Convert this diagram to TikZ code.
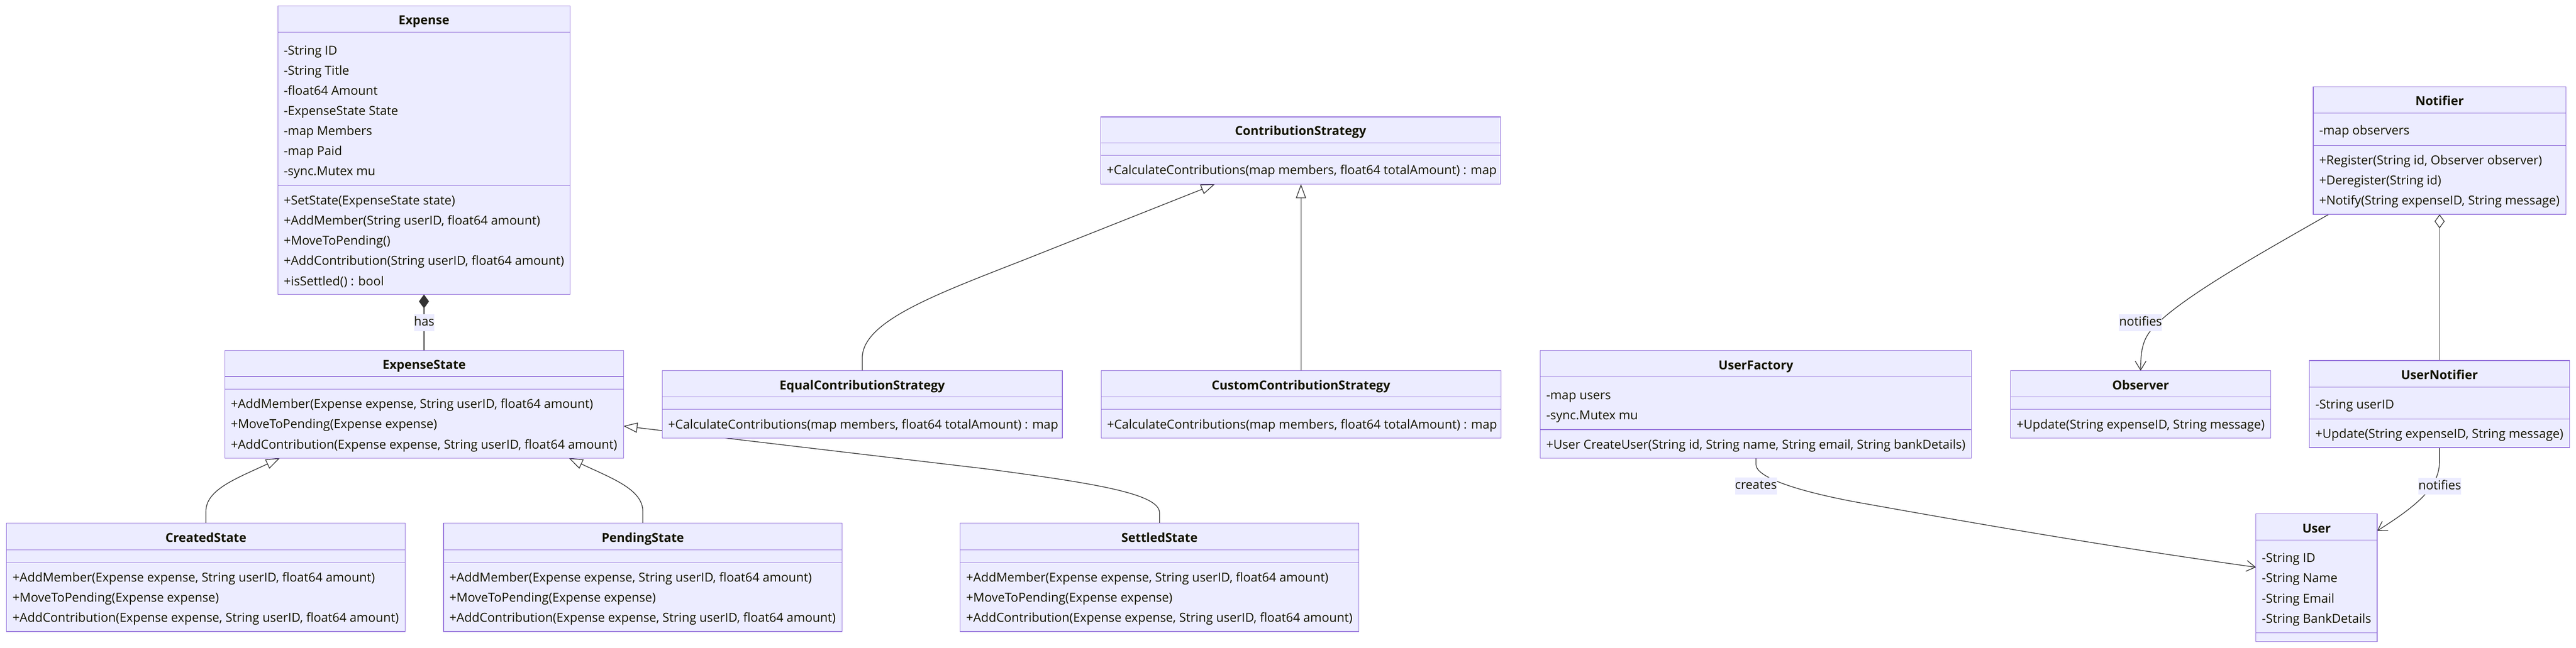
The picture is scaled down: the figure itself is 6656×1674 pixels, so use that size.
\documentclass[tikz,border=0pt]{standalone}
\usepackage{fontspec}
\setmainfont{Open Sans}
\usetikzlibrary{arrows.meta,calc,backgrounds}
\definecolor{boxfill}{HTML}{ECECFF}
\definecolor{boxline}{HTML}{9370DB}
\definecolor{txt}{HTML}{131300}
\definecolor{edgec}{HTML}{333333}
\newcommand{\umlclass}[8]{%
  \node[classbox, anchor=north west, minimum width={(#3-#2)*0.5pt}, minimum height={(#7-#4)*0.5pt}] (#1) at (#2,#4) {};
  \draw[sepline] (#2,#5) -- (#3,#5) (#2,#6) -- (#3,#6);
  \node[titletext] (#1-title) at ({(#2+#3)/2},{(#4+#5)/2+3}) {#8};
}
\newcommand{\umlmember}[4]{\node[mtext] (#1) at (#2,#3) {#4};}
\begin{document}
\begin{tikzpicture}[x=0.5pt,y=-0.5pt,
  font=\fontsize{16pt}{19pt}\selectfont,
  classbox/.style={draw=boxline, fill=boxfill, line width=0.9pt, inner sep=0pt, outer sep=0pt},
  sepline/.style={draw=boxline, line width=0.9pt},
  titletext/.style={text=txt, font=\fontsize{16pt}{19pt}\selectfont\bfseries, inner sep=0pt, text height=11.5pt, text depth=0pt, anchor=center},
  mtext/.style={text=txt, inner sep=0pt, anchor=west, text height=11.5pt, text depth=0pt},
  edgeline/.style={draw=edgec, line width=0.9pt},
  elabel/.style={fill=boxfill, text=txt, inner xsep=0pt, inner ysep=3pt, text height=12pt, text depth=3.5pt},
  inh/.style={edgeline, -{Triangle[open, fill=white, length=18pt, width=13pt]}},
  assoc/.style={edgeline, -{Straight Barb[length=11.5pt, width=14pt]}}
]
\useasboundingbox (0,0) rectangle (6656,1674);
\begin{scope}[on background layer]
  \fill[white] (0,0) rectangle (6656,1674);
\end{scope}

% ---------- classes ----------
\umlclass{ex}{718}{1473}{15}{83}{480}{761}{Expense}
\umlmember{ex-a1}{733}{130}{-String ID}
\umlmember{ex-a2}{733}{182}{-String Title}
\umlmember{ex-a3}{733}{234}{-float64 Amount}
\umlmember{ex-a4}{733}{286}{-ExpenseState State}
\umlmember{ex-a5}{733}{338}{-map Members}
\umlmember{ex-a6}{733}{390}{-map Paid}
\umlmember{ex-a7}{733}{442}{-sync.Mutex mu}
\umlmember{ex-m1}{733}{518}{+SetState(ExpenseState state)}
\umlmember{ex-m2}{733}{570}{+AddMember(String userID, float64 amount)}
\umlmember{ex-m3}{733}{622}{+MoveToPending()}
\umlmember{ex-m4}{733}{674}{+AddContribution(String userID, float64 amount)}
\umlmember{ex-m5}{733}{726}{+isSettled() : bool}

\umlclass{es}{581}{1611}{906}{973}{1006}{1184}{ExpenseState}
\umlmember{es-m1}{596}{1044}{+AddMember(Expense expense, String userID, float64 amount)}
\umlmember{es-m2}{596}{1096}{+MoveToPending(Expense expense)}
\umlmember{es-m3}{596}{1148}{+AddContribution(Expense expense, String userID, float64 amount)}

\umlclass{cs}{17}{1047}{1352}{1421}{1454}{1632}{CreatedState}
\umlmember{cs-m1}{32}{1492}{+AddMember(Expense expense, String userID, float64 amount)}
\umlmember{cs-m2}{32}{1544}{+MoveToPending(Expense expense)}
\umlmember{cs-m3}{32}{1596}{+AddContribution(Expense expense, String userID, float64 amount)}

\umlclass{ps}{1146}{2176}{1352}{1421}{1454}{1632}{PendingState}
\umlmember{ps-m1}{1161}{1492}{+AddMember(Expense expense, String userID, float64 amount)}
\umlmember{ps-m2}{1161}{1544}{+MoveToPending(Expense expense)}
\umlmember{ps-m3}{1161}{1596}{+AddContribution(Expense expense, String userID, float64 amount)}

\umlclass{ss}{2481}{3511}{1352}{1421}{1454}{1632}{SettledState}
\umlmember{ss-m1}{2496}{1492}{+AddMember(Expense expense, String userID, float64 amount)}
\umlmember{ss-m2}{2496}{1544}{+MoveToPending(Expense expense)}
\umlmember{ss-m3}{2496}{1596}{+AddContribution(Expense expense, String userID, float64 amount)}

\umlclass{cst}{2844}{3877}{302}{369}{401}{476}{ContributionStrategy}
\umlmember{cst-m1}{2859}{439}{+CalculateContributions(map members, float64 totalAmount) : map}

\umlclass{eq}{1711}{2745}{958}{1026}{1058}{1132}{EqualContributionStrategy}
\umlmember{eq-m1}{1726}{1097}{+CalculateContributions(map members, float64 totalAmount) : map}

\umlclass{cu}{2845}{3878}{958}{1026}{1058}{1132}{CustomContributionStrategy}
\umlmember{cu-m1}{2860}{1097}{+CalculateContributions(map members, float64 totalAmount) : map}

\umlclass{uf}{3980}{5094}{906}{974}{1110}{1184}{UserFactory}
\umlmember{uf-a1}{3995}{1021}{-map users}
\umlmember{uf-a2}{3995}{1073}{-sync.Mutex mu}
\umlmember{uf-m1}{3995}{1149}{+User CreateUser(String id, String name, String email, String bankDetails)}

\umlclass{ob}{5195}{5867}{958}{1026}{1058}{1132}{Observer}
\umlmember{ob-m1}{5210}{1097}{+Update(String expenseID, String message)}

\umlclass{nt}{5977}{6630}{224}{292}{376}{554}{Notifier}
\umlmember{nt-a1}{5992}{337}{-map observers}
\umlmember{nt-m1}{5992}{414}{+Register(String id, Observer observer)}
\umlmember{nt-m2}{5992}{466}{+Deregister(String id)}
\umlmember{nt-m3}{5992}{518}{+Notify(String expenseID, String message)}

\umlclass{un}{5967}{6639}{932}{1000}{1083}{1157}{UserNotifier}
\umlmember{un-a1}{5982}{1045}{-String userID}
\umlmember{un-m1}{5982}{1121}{+Update(String expenseID, String message)}

\umlclass{us}{5829}{6142}{1328}{1396}{1635}{1658}{User}
\umlmember{us-a1}{5844}{1442}{-String ID}
\umlmember{us-a2}{5844}{1494}{-String Name}
\umlmember{us-a3}{5844}{1546}{-String Email}
\umlmember{us-a4}{5844}{1598}{-String BankDetails}

% ---------- connectors ----------
\begin{scope}[on background layer]
  \draw[edgeline, {Diamond[length=18pt,width=13pt]}-] (ex.south) -- (ex.south |- es.north);
  \draw[inh] (cs.north) -- (532,1322) .. controls (532,1265) and (610,1237) .. ($(es.south west)+(142,0)$);
  \draw[inh] (ps.north) -- (1661,1322) .. controls (1661,1265) and (1583,1237) .. ($(es.south east)+(-141,0)$);
  \draw[inh] (ss.north) -- (2996,1325) .. controls (2996,1275) and (2820,1248) .. (2550,1212) -- ($(es.east)+(0,56)$);
  \draw[inh] (eq.north) -- (2228,925) .. controls (2228,830) and (2420,760) .. (2650,670) -- ($(cst.south west)+(295,0)$);
  \draw[inh] (cu.north) -- (cu.north |- cst.south);
  \draw[assoc] ($(nt.south west)+(40,0)$) .. controls (5850,650) and (5650,760) .. (5570,840) .. controls (5540,870) and (5531,895) .. (ob.north);
  \draw[edgeline, {Diamond[open, fill=white, length=18pt, width=13pt]}-] (nt.south) -- (nt.south |- un.north);
  \draw[assoc] (un.south) -- (6303,1195) .. controls (6303,1260) and (6240,1310) .. ($(us.east)+(0,-121)$);
  \draw[assoc] (uf.south) -- (4537,1200) .. controls (4537,1235) and (4650,1270) .. (4793,1297) .. controls (5200,1370) and (5500,1420) .. ($(us.west)+(0,-27)$);
\end{scope}

% ---------- labels ----------
\node[elabel] (l-has) at (1096,834) {has};
\node[elabel] (l-notobs) at (5531,834) {notifies};
\node[elabel] (l-notuser) at (6304,1257) {notifies};
\node[elabel] (l-creates) at (4537,1256) {creates};
\end{tikzpicture}
\end{document}
